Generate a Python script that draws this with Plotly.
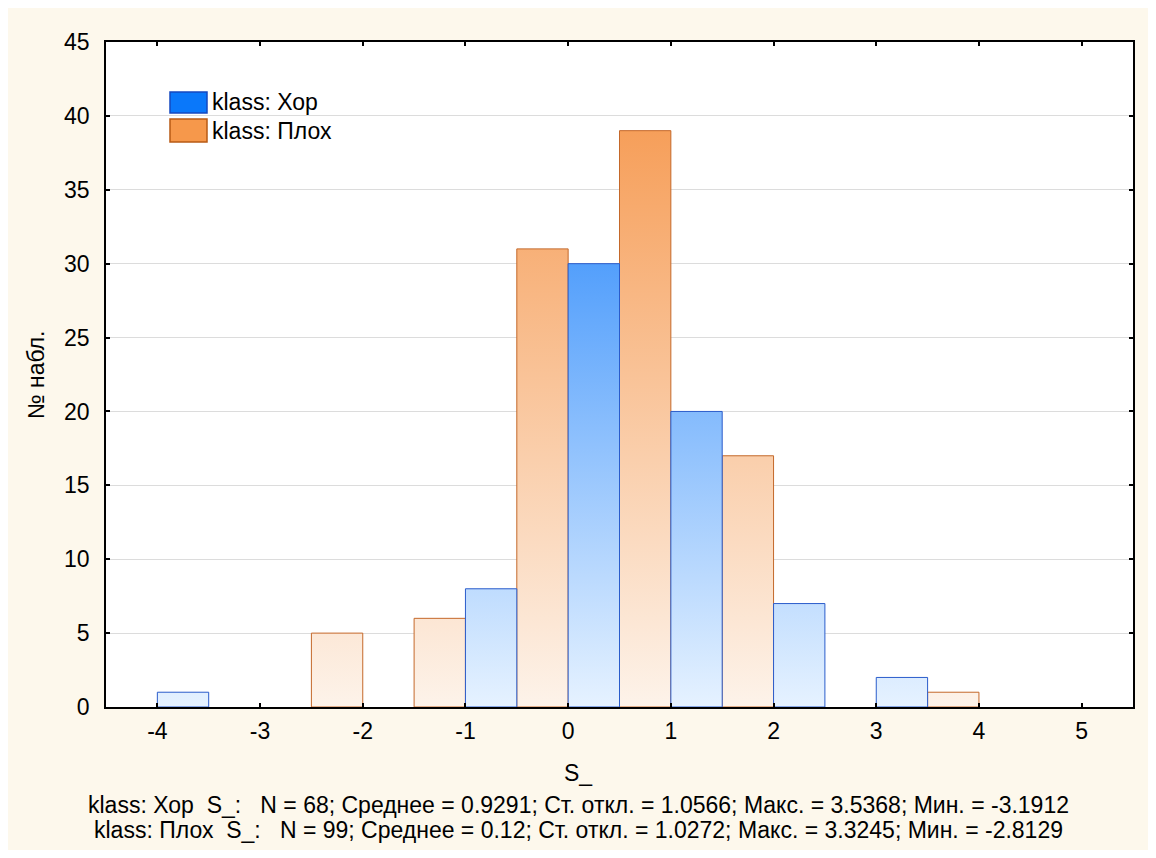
import plotly.graph_objects as go

# ---- data ----
categories = [-4, -3, -2, -1, 0, 1, 2, 3, 4, 5]
counts_xor = [1, 0, 0, 8, 30, 20, 7, 2, 0, 0]      # klass: Хор
counts_plox = [0, 0, 5, 6, 31, 39, 17, 0, 1, 0]    # klass: Плох
name_xor = "klass: Хор"
name_plox = "klass: Плох"
y_ticks = [0, 5, 10, 15, 20, 25, 30, 35, 40, 45]
x_title = "S_"
y_title = "№ набл."
stats_lines = [
    "klass: Хор  S_:   N = 68; Среднее = 0.9291; Ст. откл. = 1.0566; Макс. = 3.5368; Мин. = -3.1912",
    "klass: Плох  S_:   N = 99; Среднее = 0.12; Ст. откл. = 1.0272; Макс. = 3.3245; Мин. = -2.8129",
]

# ---- style ----
FONT = "Arial, 'Liberation Sans', sans-serif"
FS = 23
BAR_W = 0.5
CREAM = "#FDF8EC"
blue_line = "#2A5CCB"
orange_line = "#C4682A"
blue_scale = [[0, "rgb(230,242,255)"], [1, "rgb(10,118,250)"]]
orange_scale = [[0, "rgb(253,243,234)"], [1, "rgb(245,146,68)"]]

PW, PH = 1027.0, 665.0  # plot area size in px (for placing text)


def polygons(cats, counts, offset):
    xs, ys = [], []
    for k, c in zip(cats, counts):
        if c <= 0:
            continue
        x0 = k + offset
        x1 = x0 + BAR_W
        xs += [x0, x0, x1, x1, x0, None]
        ys += [0, c, c, 0, 0, None]
    return xs, ys


fig = go.Figure()

for name, counts, offset, lc, cs in [
    (name_plox, counts_plox, -BAR_W, orange_line, orange_scale),
    (name_xor, counts_xor, 0.0, blue_line, blue_scale),
]:
    xs, ys = polygons(categories, counts, offset)
    fig.add_trace(go.Scatter(
        x=xs, y=ys, mode="lines", name=name,
        fill="toself",
        fillgradient=dict(type="vertical", colorscale=cs, start=0, stop=45),
        line=dict(color=lc, width=1),
        showlegend=False,
        hoverinfo="skip",
    ))

# manual legend (large swatches like the reference)
legend_items = [
    (name_xor, "rgb(10,120,250)", "#1448C0", 92, 113),
    (name_plox, "rgb(246,152,75)", "#B85A14", 119, 142),
]
for label, fill, border, top, bot in legend_items:
    y1 = (707 - top) / PH
    y0 = (707 - bot) / PH
    fig.add_shape(type="rect", xref="paper", yref="paper",
                  x0=(170 - 106) / PW, x1=(207 - 106) / PW, y0=y0, y1=y1,
                  fillcolor=fill, line=dict(color=border, width=1.5), layer="above")
    fig.add_annotation(xref="paper", yref="paper", x=(210 - 106) / PW, y=(y0 + y1) / 2,
                       text=label, showarrow=False, xanchor="left", yanchor="middle",
                       font=dict(family=FONT, size=FS, color="black"))

# axis titles & stats text
cx = (578 - 106) / PW
fig.add_annotation(xref="paper", yref="paper", x=cx, y=(707 - 773) / PH,
                   text=x_title, showarrow=False, xanchor="center", yanchor="middle",
                   font=dict(family=FONT, size=FS, color="black"))
fig.add_annotation(xref="paper", yref="paper", x=(36 - 106) / PW, y=(707 - 375) / PH,
                   text=y_title, showarrow=False, xanchor="center", yanchor="middle",
                   textangle=-90,
                   font=dict(family=FONT, size=FS, color="black"))
for i, line in enumerate(stats_lines):
    fig.add_annotation(xref="paper", yref="paper", x=cx, y=(707 - (805 + 25 * i)) / PH,
                       text=line, showarrow=False, xanchor="center", yanchor="middle",
                       font=dict(family=FONT, size=FS, color="black"))

fig.update_layout(
    width=1140, height=842,
    margin=dict(l=98, r=15, t=34, b=143),
    paper_bgcolor=CREAM,
    plot_bgcolor="white",
    font=dict(family=FONT, size=FS, color="black"),
    showlegend=False,
    xaxis=dict(
        range=[-4.5, 5.5], tickmode="array", tickvals=categories,
        ticktext=[str(c) for c in categories],
        ticks="inside", ticklen=4, tickcolor="black", tickwidth=1.5,
        showline=True, linecolor="black", linewidth=1.5, mirror="ticks",
        showgrid=False, zeroline=False, ticklabelstandoff=3,
        tickfont=dict(family=FONT, size=FS, color="black"),
    ),
    yaxis=dict(
        range=[0, 45], tickmode="array", tickvals=y_ticks,
        ticks="inside", ticklen=4, tickcolor="black", tickwidth=1.5,
        showline=True, linecolor="black", linewidth=1.5, mirror="ticks",
        showgrid=True, gridcolor="#DCDCDC", gridwidth=1, zeroline=False,
        ticklabelstandoff=10,
        tickfont=dict(family=FONT, size=FS, color="black"),
    ),
)

fig.write_html("out.html")
